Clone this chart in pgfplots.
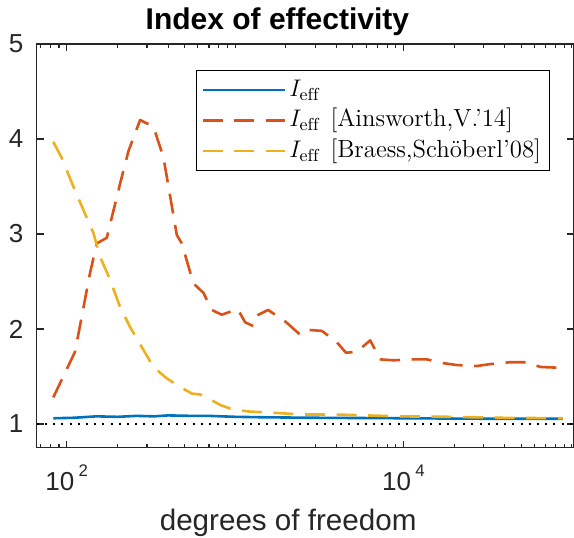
\documentclass[border=0pt]{standalone}
\usepackage{pgfplots}
\pgfplotsset{compat=1.18}
\usepackage{fontspec}
\newfontfamily\hel{Liberation Sans}
\definecolor{mblue}{HTML}{0072BD}
\definecolor{morange}{HTML}{D95319}
\definecolor{myellow}{HTML}{EDB120}
\definecolor{axgray}{HTML}{262626}
\newcommand{\tenpow}[1]{10\hspace{2.2pt}\raisebox{6.7pt}{\fontsize{8.4}{9}\selectfont #1}}

\begin{document}
\begin{tikzpicture}
\begin{axis}[
  xmode=log, log basis x=10,
  scale only axis, width=268.65pt, height=201.85pt,
  xmin=66.3, xmax=103000, ymin=0.75, ymax=5,
  xtick={100,10000}, xticklabels={\tenpow{2},\tenpow{4}},
  minor xtick={70,80,90,200,300,400,500,600,700,800,900,1000,2000,3000,4000,5000,6000,7000,8000,9000,20000,30000,40000,50000,60000,70000,80000,90000,100000},
  ytick={1,2,3,4,5}, yticklabels={1,2,3,4,5},
  tick align=inside,
  major tick length=3.5pt, minor tick length=2pt,
  axis line style={axgray, line width=0.7pt},
  tick style={axgray, line width=0.6pt},
  ticklabel style={font=\hel\fontsize{13}{15}\selectfont, text=axgray},
  yticklabel style={anchor=east, inner sep=0pt, xshift=-6.5pt},
  xticklabel style={anchor=base, inner sep=0pt, yshift=-21.2pt},
  every axis title shift=0pt,
  title={Index of effectivity},
  title style={at={(axis description cs:0.448,1)}, anchor=base, yshift=7pt, inner sep=0pt,
    font=\hel\bfseries\fontsize{15}{18}\selectfont, text=black},
  xlabel={degrees of freedom},
  xlabel style={at={(axis description cs:0.468,0)}, anchor=base, yshift=-41.2pt, inner sep=0pt,
    font=\hel\fontsize{14.8}{17}\selectfont, text=axgray},
  legend image code/.code={\draw[#1] (0pt,0pt) -- (41pt,0pt);},
  legend cell align=left,
  legend style={at={(0.955,0.9356)}, anchor=north east, draw=black, line width=0.5pt, fill=white,
    inner xsep=2.6pt, inner ysep=2.2pt, font=\fontsize{12.4}{14}\selectfont,
    nodes={inner xsep=1.6pt, inner ysep=1.25pt, text height=9.5pt, text depth=3.2pt},
    row sep=0pt, column sep=0pt},
]
\addplot[black, line width=0.9pt, dash pattern=on 1pt off 3.1pt, forget plot] coordinates {(66.3,1) (103000,1)};

\addplot[mblue, line width=1.3pt, line join=round] coordinates {
(83.2,1.06) (110,1.065) (150,1.08) (200,1.075) (260,1.085) (330,1.08) (400,1.09) (550,1.085)
(700,1.085) (1000,1.075) (1500,1.07) (3000,1.065) (10000,1.06) (30000,1.055) (88520,1.055)};
\addlegendentry{$I_{\mathrm{eff}}$}

\addplot[morange, line width=1.3pt, line join=round, dash pattern=on 10pt off 5.8pt] coordinates {
(83.2,1.28) (112,1.76) (137.5,2.59) (150.8,2.90) (172.9,2.96) (207.4,3.53) (232.3,3.87)
(272.6,4.20) (327,4.13) (375,3.81) (450.4,2.99) (482.4,2.90) (565.1,2.48) (648.1,2.38)
(727.1,2.20) (833.7,2.15) (1035,2.21) (1147,2.07) (1284,2.03) (1375,2.15) (1571,2.20)
(1982,2.08) (2433,1.94) (2727,1.99) (3275,1.98) (4021,1.86) (4554,1.75) (5287,1.76)
(6341,1.88) (7272,1.68) (8722,1.67) (11470,1.68) (13770,1.68) (17290,1.64) (20770,1.62)
(27300,1.61) (32750,1.63) (43050,1.65) (54110,1.65) (64910,1.60) (88520,1.59)};
\addlegendentry{$I_{\mathrm{eff}}$\hspace{5.5pt}[Ainsworth,V.'14]}

\addplot[myellow, line width=1.3pt, line join=round, dash pattern=on 10pt off 5.8pt] coordinates {
(83.2,3.97) (93.4,3.80) (109.4,3.50) (131.5,3.17) (143.9,3.01) (157.7,2.76) (180.8,2.52)
(207.4,2.23) (237.8,2.02) (260.5,1.90) (327,1.60) (392.8,1.48) (471.3,1.39) (553,1.32)
(619.5,1.31) (710.4,1.26) (814.5,1.20) (977,1.15) (1228,1.13) (1614,1.12) (2433,1.10)
(3838,1.10) (6061,1.09) (9559,1.08) (18950,1.075) (37550,1.065) (88520,1.06)};
\addlegendentry{$I_{\mathrm{eff}}$\hspace{5.5pt}[Braess,Schöberl'08]}

\coordinate (bl) at (rel axis cs:0,0);
\coordinate (tr) at (rel axis cs:1,1);
\end{axis}
\pgfresetboundingbox
\path[use as bounding box] ([shift={(-18.35pt,-44.65pt)}]bl) rectangle ([shift={(0pt,22pt)}]tr);
\end{tikzpicture}
\end{document}
